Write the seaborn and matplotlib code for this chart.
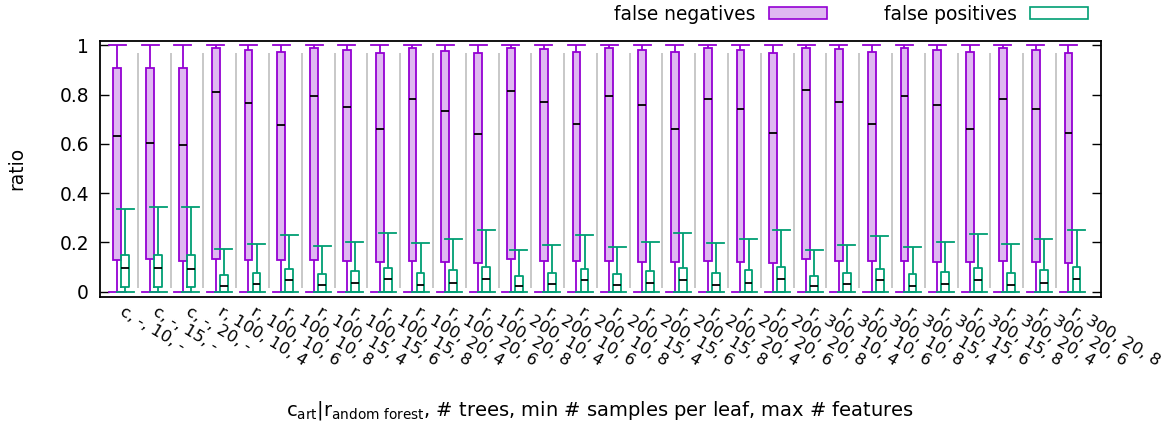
import numpy as np
import pandas as pd
import seaborn as sns
import matplotlib.pyplot as plt
from matplotlib.patches import Patch
from matplotlib.ticker import FuncFormatter

# configurations: c|r, # trees, min # samples per leaf, max # features
configs = ["c, -, 10, -", "c, -, 15, -", "c, -, 20, -",
           "r, 100, 10, 4", "r, 100, 10, 6", "r, 100, 10, 8",
           "r, 100, 15, 4", "r, 100, 15, 6", "r, 100, 15, 8",
           "r, 100, 20, 4", "r, 100, 20, 6", "r, 100, 20, 8",
           "r, 200, 10, 4", "r, 200, 10, 6", "r, 200, 10, 8",
           "r, 200, 15, 4", "r, 200, 15, 6", "r, 200, 15, 8",
           "r, 200, 20, 4", "r, 200, 20, 6", "r, 200, 20, 8",
           "r, 300, 10, 4", "r, 300, 10, 6", "r, 300, 10, 8",
           "r, 300, 15, 4", "r, 300, 15, 6", "r, 300, 15, 8",
           "r, 300, 20, 4", "r, 300, 20, 6", "r, 300, 20, 8"]

# false negatives: min, q1, median, q3, max
fn_min = [0.0, 0.0, 0.0, 0.0, 0.0, 0.0, 0.0, 0.0, 0.0, 0.0,
          0.0, 0.0, 0.0, 0.0, 0.0, 0.0, 0.0, 0.0, 0.0, 0.0,
          0.0, 0.0, 0.0, 0.0, 0.0, 0.0, 0.0, 0.0, 0.0, 0.0]
fn_q1 = [0.129, 0.131, 0.125, 0.131, 0.127, 0.127, 0.127, 0.123, 0.120, 0.123,
         0.120, 0.118, 0.131, 0.126, 0.126, 0.126, 0.122, 0.119, 0.123, 0.119,
         0.118, 0.131, 0.126, 0.126, 0.126, 0.122, 0.119, 0.123, 0.119, 0.118]
fn_med = [0.632, 0.603, 0.594, 0.809, 0.765, 0.677, 0.793, 0.750, 0.660, 0.783,
          0.735, 0.641, 0.816, 0.769, 0.679, 0.794, 0.758, 0.662, 0.783, 0.740,
          0.644, 0.817, 0.771, 0.682, 0.796, 0.758, 0.662, 0.783, 0.740, 0.644]
fn_q3 = [0.907, 0.909, 0.909, 0.988, 0.982, 0.972, 0.988, 0.980, 0.970, 0.988,
         0.978, 0.968, 0.991, 0.984, 0.972, 0.991, 0.982, 0.972, 0.988, 0.980,
         0.968, 0.991, 0.984, 0.972, 0.991, 0.982, 0.972, 0.988, 0.980, 0.968]
fn_max = [1.0, 1.0, 1.0, 1.0, 1.0, 1.0, 1.0, 1.0, 1.0, 1.0,
          1.0, 1.0, 1.0, 1.0, 1.0, 1.0, 1.0, 1.0, 1.0, 1.0,
          1.0, 1.0, 1.0, 1.0, 1.0, 1.0, 1.0, 1.0, 1.0, 1.0]

# false positives: min, q1, median, q3, max
fp_min = [0.0, 0.0, 0.0, 0.0, 0.0, 0.0, 0.0, 0.0, 0.0, 0.0,
          0.0, 0.0, 0.0, 0.0, 0.0, 0.0, 0.0, 0.0, 0.0, 0.0,
          0.0, 0.0, 0.0, 0.0, 0.0, 0.0, 0.0, 0.0, 0.0, 0.0]
fp_q1 = [0.020, 0.020, 0.020, 0.0, 0.0, 0.0, 0.0, 0.0, 0.0, 0.0,
         0.0, 0.0, 0.0, 0.0, 0.0, 0.0, 0.0, 0.0, 0.0, 0.0,
         0.0, 0.0, 0.0, 0.0, 0.0, 0.0, 0.0, 0.0, 0.0, 0.0]
fp_med = [0.095, 0.097, 0.092, 0.023, 0.031, 0.047, 0.026, 0.035, 0.050, 0.027,
          0.037, 0.050, 0.022, 0.030, 0.047, 0.026, 0.034, 0.047, 0.026, 0.035,
          0.050, 0.022, 0.030, 0.047, 0.024, 0.032, 0.047, 0.026, 0.034, 0.051]
fp_q3 = [0.148, 0.150, 0.150, 0.068, 0.077, 0.093, 0.073, 0.083, 0.096, 0.077,
         0.087, 0.100, 0.066, 0.076, 0.092, 0.073, 0.083, 0.095, 0.078, 0.087,
         0.100, 0.066, 0.076, 0.092, 0.073, 0.081, 0.095, 0.077, 0.087, 0.100]
fp_max = [0.337, 0.345, 0.345, 0.172, 0.192, 0.230, 0.184, 0.204, 0.238, 0.196,
          0.215, 0.249, 0.169, 0.191, 0.229, 0.183, 0.204, 0.237, 0.196, 0.215,
          0.249, 0.169, 0.189, 0.227, 0.183, 0.202, 0.235, 0.195, 0.215, 0.249]

series = ["false negatives", "false positives"]
PURPLE = "#9400D3"
PURPLE_FILL = "#DFB8F1"
GREEN = "#009E73"
FS = 13.4

plt.rcParams['font.family'] = ['DejaVu Sans']
plt.rcParams['font.size'] = FS


def long_form(name, cols):
    # five numbers per box -> percentiles of 5 values give them back exactly
    rows = []
    for i, cfg in enumerate(configs):
        for col in cols:
            rows.append({"config": cfg, "series": name, "ratio": col[i]})
    return pd.DataFrame(rows)


df_fn = long_form(series[0], [fn_min, fn_q1, fn_med, fn_q3, fn_max])
df_fp = long_form(series[1], [fp_min, fp_q1, fp_med, fp_q3, fp_max])

fig = plt.figure(figsize=(11.64, 4.29), dpi=100)
ax = fig.add_axes([0.0859, 0.3084, 0.860, 0.5967])

# gray separators between configurations
sep = np.arange(len(configs) - 1) + 0.5
ax.vlines(sep, 0.014, 0.968, color="#c4c4c4", lw=1.3, zorder=0)

common = dict(x="config", y="ratio", hue="series", hue_order=series, order=configs,
              dodge=True, width=0.49, gap=0.04, whis=(0, 100), saturation=1,
              legend=False, capwidths=0.52, ax=ax,
              medianprops=dict(color="black", linewidth=1.3))

sns.boxplot(data=df_fn, fill=True, palette={series[0]: PURPLE_FILL, series[1]: GREEN},
            linecolor=PURPLE, linewidth=1.3, **common)
sns.boxplot(data=df_fp, fill=False, palette={series[0]: PURPLE, series[1]: GREEN},
            linewidth=1.3, **common)

ax.set_xlim(-0.65, 29.87)
ax.set_ylim(-0.02, 1.019)
ax.set_yticks([0, 0.2, 0.4, 0.6, 0.8, 1.0])
ax.yaxis.set_major_formatter(FuncFormatter(lambda v, p: f"{v:g}"))
ax.tick_params(axis="y", direction="in", length=6.5, width=1, right=True, pad=8,
               labelsize=FS)
ax.tick_params(axis="x", length=0, pad=10, labelsize=11.8)
ax.set_xticks(range(len(configs)))
ax.set_xticklabels(configs, rotation=-31, ha="left", va="center",
                   rotation_mode="anchor")
for s in ax.spines.values():
    s.set_linewidth(1.3)
    s.set_color("black")
ax.set_xlabel("")
ax.set_ylabel("")

fig.text(17 / 1164, 1 - 168.7 / 429, "ratio", rotation=90, ha="center", va="center",
         fontsize=FS)
fig.text(600 / 1164, 1 - 410 / 429,
         r"c$_{\mathrm{art}}$|r$_{\mathrm{andom\ forest}}$, # trees, min # samples per leaf, max # features",
         ha="center", va="center", fontsize=14)

handles = [Patch(facecolor=PURPLE_FILL, edgecolor=PURPLE, linewidth=1.2),
           Patch(facecolor="none", edgecolor=GREEN, linewidth=1.2)]
fig.legend(handles, series, loc="center right", bbox_to_anchor=(0.949, 1 - 14 / 429),
           ncol=2, frameon=False, markerfirst=False, handlelength=3.09,
           handleheight=0.62, handletextpad=0.74, columnspacing=3.06, fontsize=FS)

fig.savefig("out.png", dpi=100)
